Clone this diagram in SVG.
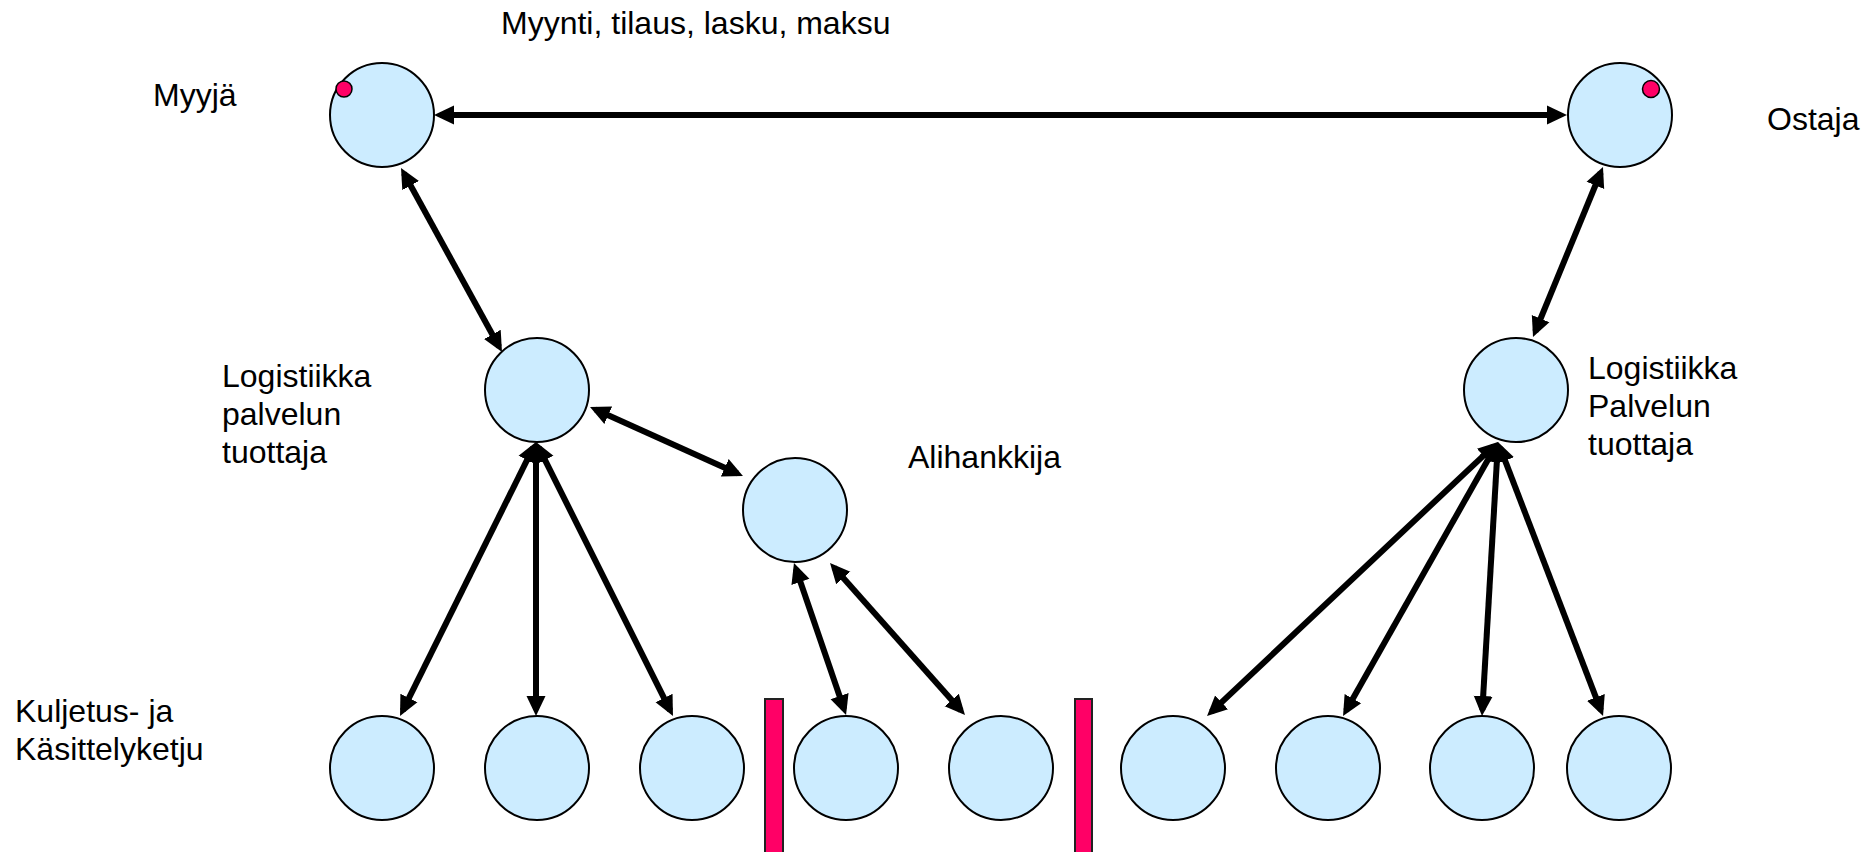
<svg xmlns="http://www.w3.org/2000/svg" width="1872" height="852" viewBox="0 0 1872 852">
<defs>
<marker id="ah" markerUnits="userSpaceOnUse" markerWidth="24" markerHeight="24" viewBox="0 -12 24 24" refX="14" refY="0" orient="auto-start-reverse">
<path d="M0,-9.5 L20,0 L0,9.5 z" fill="#000"/>
</marker>
</defs>
<style>
.n{fill:#CCECFF;stroke:#000;stroke-width:2}
.dot{fill:#FF0066;stroke:#000;stroke-width:1.5}
.bar{fill:#FF0066;stroke:#222;stroke-width:2}
.c{stroke:#000;stroke-width:6;fill:none;marker-start:url(#ah);marker-end:url(#ah)}
text{font-family:"Liberation Sans",Arial,sans-serif;font-size:32px;fill:#000}
</style>
<rect width="1872" height="852" fill="#fff"/>
<g id="labels">
<text x="501" y="34">Myynti, tilaus, lasku, maksu</text>
<text x="153" y="106">Myyjä</text>
<text x="1767" y="130">Ostaja</text>
<text x="222" y="387">Logistiikka</text>
<text x="222" y="425">palvelun</text>
<text x="222" y="463">tuottaja</text>
<text x="1588" y="379">Logistiikka</text>
<text x="1588" y="417">Palvelun</text>
<text x="1588" y="455">tuottaja</text>
<text x="908" y="468">Alihankkija</text>
<text x="15" y="722">Kuljetus- ja</text>
<text x="15" y="760">Käsittelyketju</text>
</g>
<g id="connectors">
<line class="c" x1="440" y1="115" x2="1561" y2="115"/>
<line class="c" x1="403.9" y1="173.3" x2="499.1" y2="346.7"/>
<line class="c" x1="595.5" y1="409.5" x2="737.5" y2="473.5"/>
<line class="c" x1="533.3" y1="447.4" x2="402.7" y2="710.6"/>
<line class="c" x1="536" y1="448" x2="536" y2="710"/>
<line class="c" x1="538.7" y1="447.4" x2="670.3" y2="710.6"/>
<line class="c" x1="795.9" y1="568.7" x2="844.1" y2="709.3"/>
<line class="c" x1="834" y1="567.5" x2="961" y2="710.5"/>
<line class="c" x1="1600.7" y1="172.5" x2="1535.3" y2="331.5"/>
<line class="c" x1="1493.6" y1="446.1" x2="1211.4" y2="711.9"/>
<line class="c" x1="1495" y1="447.2" x2="1346" y2="710.8"/>
<line class="c" x1="1497.65" y1="448" x2="1482.35" y2="710"/>
<line class="c" x1="1500.1" y1="447.6" x2="1600.9" y2="710.4"/>
</g>
<g id="myyja"><circle class="n" cx="382" cy="115" r="52"/><circle class="dot" cx="344" cy="89" r="8"/></g>
<g id="ostaja"><circle class="n" cx="1620" cy="115" r="52"/><circle class="dot" cx="1651" cy="89" r="8.5"/></g>
<g id="logistiikka-left"><circle class="n" cx="537" cy="390" r="52"/></g>
<g id="logistiikka-right"><circle class="n" cx="1516" cy="390" r="52"/></g>
<g id="alihankkija"><circle class="n" cx="795" cy="510" r="52"/></g>
<g id="chain1"><circle class="n" cx="382" cy="768" r="52"/></g>
<g id="chain2"><circle class="n" cx="537" cy="768" r="52"/></g>
<g id="chain3"><circle class="n" cx="692" cy="768" r="52"/></g>
<g id="chain4"><circle class="n" cx="846" cy="768" r="52"/></g>
<g id="chain5"><circle class="n" cx="1001" cy="768" r="52"/></g>
<g id="chain6"><circle class="n" cx="1173" cy="768" r="52"/></g>
<g id="chain7"><circle class="n" cx="1328" cy="768" r="52"/></g>
<g id="chain8"><circle class="n" cx="1482" cy="768" r="52"/></g>
<g id="chain9"><circle class="n" cx="1619" cy="768" r="52"/></g>
<g id="barrier1"><rect class="bar" x="765" y="699" width="18" height="160"/></g>
<g id="barrier2"><rect class="bar" x="1075" y="699" width="17" height="160"/></g>
</svg>
